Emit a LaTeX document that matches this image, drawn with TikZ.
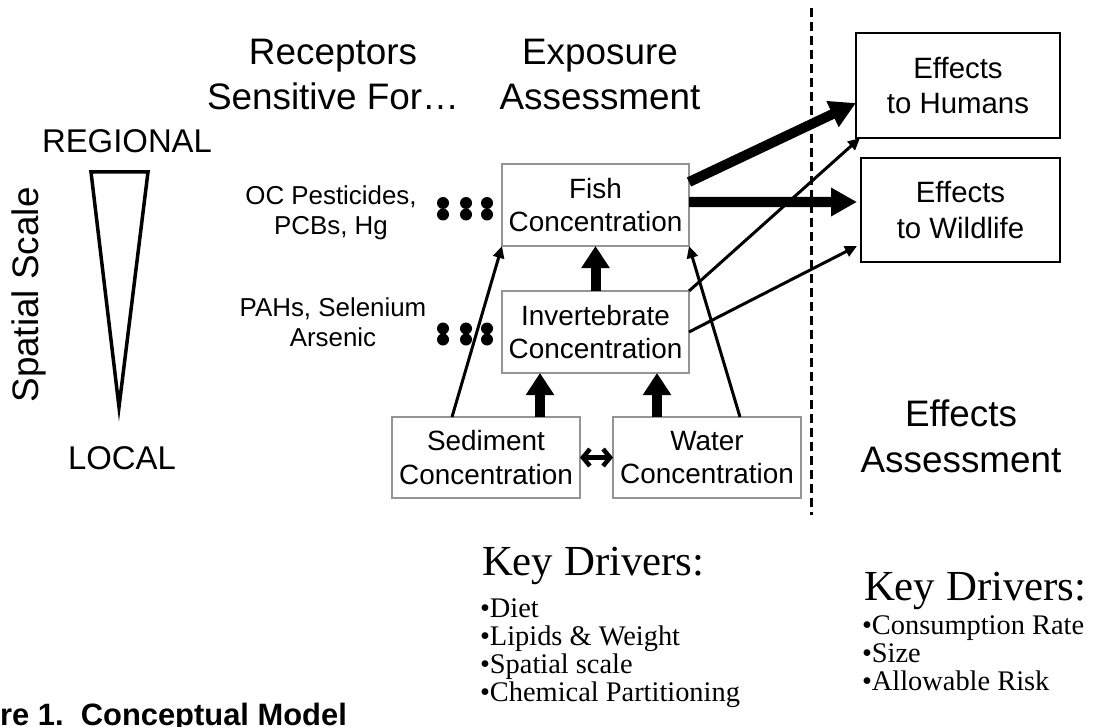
\documentclass[tikz,border=0pt]{standalone}
\usepackage{fontspec}
\setmainfont{Liberation Sans}
\newfontfamily\kdserif{Liberation Serif}
\usetikzlibrary{arrows.meta,calc}
\begin{document}
\begin{tikzpicture}[x=1bp,y=-1bp,
  every node/.style={inner sep=0pt, outer sep=0pt},
  conc/.style={draw=black!42, line width=1.8bp, minimum width=187bp, minimum height=82bp, align=center, font=\fontsize{28}{34}\selectfont},
  effbox/.style={draw=black, line width=2bp, align=center, font=\fontsize{29.5}{36}\selectfont},
  title/.style={align=center, anchor=base, font=\fontsize{37}{46}\selectfont},
  scalelbl/.style={anchor=base, font=\fontsize{33}{40}\selectfont},
  chem/.style={anchor=base, align=center, font=\fontsize{26}{30}\selectfont},
  kdtitle/.style={anchor=base west, font=\kdserif\fontsize{43}{50}\selectfont},
  kdlist/.style={anchor=base west, align=left, font=\kdserif\fontsize{28.5}{28}\selectfont},
  thickarr/.style={line width=10bp, -{Triangle[width=27bp,length=22bp]}},
  biglink/.style={line width=10bp, -{Triangle[width=27bp,length=26bp]}},
  thinarr/.style={line width=3bp, -{Triangle[width=11bp,length=12bp]}},
  dblarr/.style={line width=4.5bp, {Straight Barb[length=7bp,width=17bp]}-{Straight Barb[length=7bp,width=17bp]}},
  dot/.style={fill=black}
]
\useasboundingbox (0,0) rectangle (1108,727);

% spatial scale
\draw[line width=3.5bp, line join=miter] (91,172) -- (148,172) -- (119,407) -- cycle;
\node[scalelbl] (reg) at (127,153) {REGIONAL};
\node[scalelbl] (loc) at (122,469) {LOCAL};
\node[rotate=90, font=\fontsize{37}{44}\selectfont] (ss) at (28.5,295) {Spatial Scale};

% titles (anchor base = last line)
\node[title] (rec) at (333,110) {Receptors\\Sensitive For…};
\node[title] (exp) at (600,110) {Exposure\\Assessment};
\node[title] (effa) at (961,472) {Effects\\Assessment};

% chemicals
\node[chem] (oc) at (331,234) {OC Pesticides,\\PCBs, Hg};
\node[chem] (pah) at (333,346) {PAHs, Selenium\\Arsenic};
\foreach \x in {443,466,487}{
  \fill[dot] (\x,203) circle (6bp);
  \fill[dot] (\x,214.5) circle (6bp);
  \fill[dot] (\x,328.5) circle (6bp);
  \fill[dot] (\x,339.5) circle (6bp);
}

% boxes
\node[conc] (fish) at (595.5,205) {Fish\\Concentration};
\node[conc] (inv) at (595.5,332) {Invertebrate\\Concentration};
\node[conc, minimum width=188bp, minimum height=81bp] (sed) at (486,457.5) {Sediment\\Concentration};
\node[conc, minimum width=188bp, minimum height=81bp] (wat) at (707,457.5) {Water\\Concentration};
\node[effbox, minimum width=204bp, minimum height=105bp] (hum) at (958,85.5) {Effects\\to Humans};
\node[effbox, minimum width=199bp, minimum height=104bp] (wil) at (960.5,210) {Effects\\to Wildlife};

% dashed divider
\coordinate (dtop) at (811,8);
\coordinate (dbot) at (811,515);
\draw[line width=3bp, dash pattern=on 9bp off 5bp] (dtop) -- (dbot);

% connectors
\draw[thickarr] (inv.north) -- (fish.south);
\draw[thickarr] ([xshift=54bp]sed.north) -- ([xshift=54bp]sed.north |- inv.south);
\draw[thickarr] ([xshift=-50bp]wat.north) -- ([xshift=-50bp]wat.north |- inv.south);
\draw[thinarr] ([xshift=-34bp]sed.north) -- (fish.south west);
\draw[thinarr] ([xshift=33bp]wat.north) -- (fish.south east);
\draw[dblarr] (sed.east) -- (wat.west);
\draw[biglink] ([yshift=23bp]fish.east) -- ([yshift=-17.5bp]hum.west);
\draw[biglink] ([yshift=3bp]fish.east) -- ([xshift=-4bp,yshift=8bp]wil.west);
\draw[thinarr] (inv.north east) -- ([xshift=4bp]hum.south west);
\draw[thinarr] (inv.east) -- ([xshift=-4bp,yshift=-36bp]wil.west);

% key drivers (list anchor base = last line)
\node[kdtitle] (kd1) at (482,575) {Key Drivers:};
\node[kdlist] (kl1) at (480,701) {•Diet\\•Lipids \& Weight\\•Spatial scale\\•Chemical Partitioning};
\node[kdtitle] (kd2) at (864,600) {Key Drivers:};
\node[kdlist] (kl2) at (862,690) {•Consumption Rate\\•Size\\•Allowable Risk};

% caption
\node[anchor=base west, font=\bfseries\fontsize{31}{37}\selectfont] (cap) at (-65,725) {Figure 1.\ \ Conceptual Model};
\end{tikzpicture}
\end{document}
